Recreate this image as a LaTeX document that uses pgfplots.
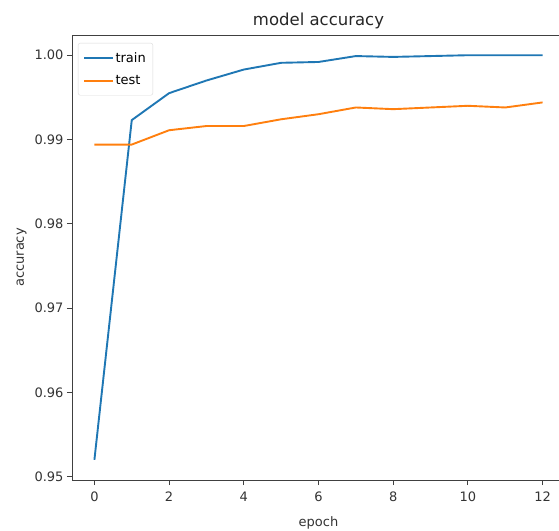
\documentclass[border=0pt]{standalone}
\usepackage{fontspec}
\setmainfont{DejaVu Sans}
\usepackage{pgfplots}
\pgfplotsset{compat=1.18}
\usetikzlibrary{calc}

\definecolor{mplblue}{HTML}{1F77B4}
\definecolor{mplorange}{HTML}{FF7F0E}

\pgfplotstableread{
epoch train test
0  0.9520 0.9894
1  0.9923 0.9894
2  0.9955 0.9911
3  0.9970 0.9916
4  0.9983 0.9916
5  0.9991 0.9924
6  0.9992 0.9930
7  0.9999 0.9938
8  0.9998 0.9936
9  0.9999 0.9938
10 1.0000 0.9940
11 1.0000 0.9938
12 1.0000 0.9944
}\acc

\begin{document}
\begin{tikzpicture}
\begin{axis}[
  name=ax,
  scale only axis,
  width=493pt, height=445pt,
  xmin=-0.6, xmax=12.6,
  ymin=0.9496, ymax=1.0024,
  xtick={0,2,...,12},
  ytick={0.95,0.96,0.97,0.98,0.99,1.00},
  yticklabel style={/pgf/number format/.cd, fixed, fixed zerofill, precision=2},
  /pgf/number format/assume math mode=true,
  tick align=outside,
  tick pos=left,
  major tick length=5pt,
  tick style={black!75, line width=0.8pt},
  axis line style={black!75, line width=0.8pt},
  ticklabel style={font=\fontsize{13}{15}\selectfont, text=black!80},
  xticklabel style={yshift=-3pt},
  title={model accuracy},
  title style={font=\fontsize{16.5}{19}\selectfont, text=black!85, yshift=-3pt},
  xlabel={epoch},
  ylabel={accuracy},
  label style={font=\fontsize{13}{15}\selectfont, text=black!80},
  xlabel style={yshift=-8pt},
  ylabel style={yshift=1pt},
  legend style={at={(rel axis cs:0,1)}, anchor=north west, xshift=6pt, yshift=-8pt,
    font=\fontsize{13}{15}\selectfont, draw=black!15, rounded corners=2pt,
    fill=white, fill opacity=0.8, text opacity=1, inner xsep=5pt, inner ysep=7pt,
    row sep=8pt},
  legend cell align=left,
  legend image code/.code={\draw[#1, line width=1.9pt] (0cm,0cm) -- (1.0cm,0cm);},
]
\addplot[mplblue, line width=1.9pt] table[x=epoch, y=train] {\acc};
\addlegendentry{train}
\addplot[mplorange, line width=1.9pt] table[x=epoch, y=test] {\acc};
\addlegendentry{test}
\end{axis}
\pgfresetboundingbox
\path[use as bounding box] ($(ax.south west)+(-72pt,-50pt)$) rectangle ($(ax.north west)+(487pt,35pt)$);
\end{tikzpicture}
\end{document}
